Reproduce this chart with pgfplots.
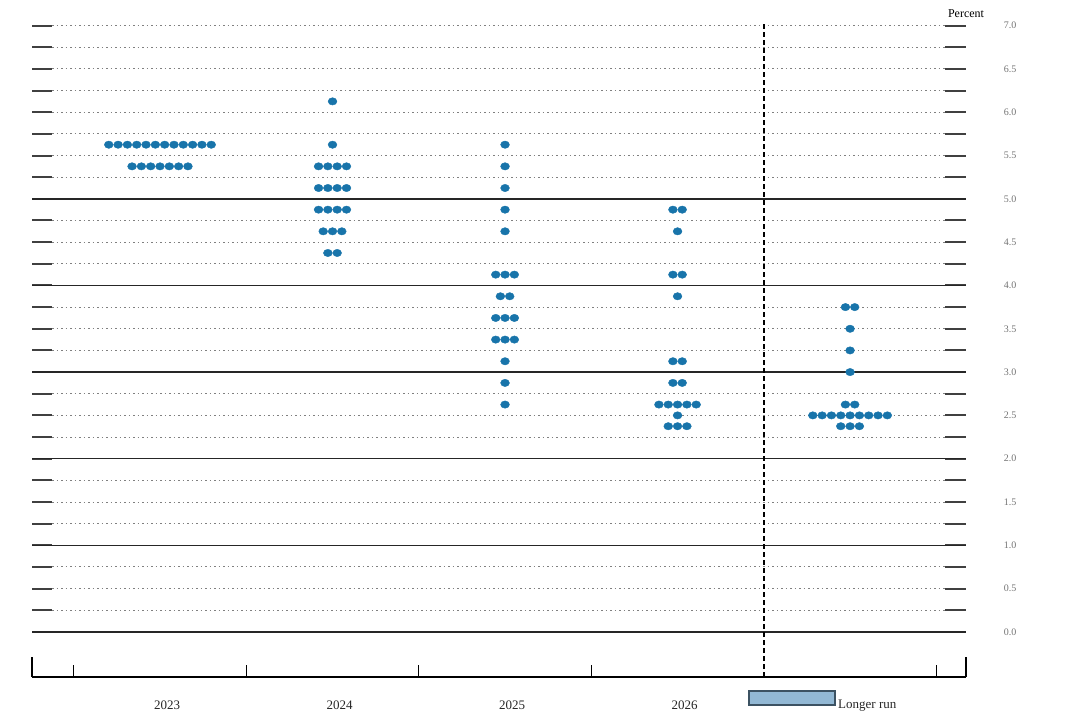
\documentclass[border=0pt]{standalone}
\usepackage{fontspec}
\setmainfont{Liberation Serif}
\usepackage{pgfplots}
\pgfplotsset{compat=1.18}
\definecolor{dotblue}{RGB}{24,116,170}
\definecolor{ticklab}{RGB}{115,115,115}
\definecolor{boxfill}{RGB}{146,184,212}
\definecolor{boxedge}{RGB}{60,82,98}
\begin{document}
\begin{tikzpicture}[x=1pt,y=1pt]
\useasboundingbox (0,0) rectangle (1070,717);
\begin{axis}[
  at={(32pt,40pt)}, anchor=south west,
  scale only axis, width=934pt, height=654pt,
  xmin=0.258, xmax=5.672, ymin=-0.52, ymax=7.03,
  axis line style={draw=none},
  clip=false,
  xtick={1,2,3,4}, xticklabels={2023,2024,2025,2026},
  xticklabel style={font=\fontsize{13}{15}\selectfont, text=black!85, xshift=7pt, yshift=-20pt},
  ytick={0,0.5,...,7},
  yticklabel pos=right,
  yticklabel={\pgfmathprintnumber[fixed,fixed zerofill,precision=1]{\tick}},
  yticklabel style={font=\fontsize{10}{12}\selectfont, text=ticklab, anchor=center, xshift=44pt},
  /pgf/number format/assume math mode=true,
  major tick length=0pt,
]
% dotted grid lines
\pgfplotsinvokeforeach{0,0.25,...,7}{
  \draw[gray, line width=1pt, dash pattern=on 1.5pt off 3pt] (axis cs:0.374,#1) -- (axis cs:5.551,#1);
  \draw[black!75, line width=2pt] (axis cs:0.258,#1) -- (axis cs:0.374,#1);
  \draw[black!75, line width=2pt] (axis cs:5.551,#1) -- (axis cs:5.672,#1);
}
% solid integer lines
\pgfplotsinvokeforeach{0,1,2,3,4,5}{
  \draw[black!85, line width=1.4pt] (axis cs:0.258,#1) -- (axis cs:5.672,#1);
}
% bottom axis
\draw[black, line width=2pt] (axis cs:0.258,-0.52) -- (axis cs:5.672,-0.52);
\draw[black, line width=2pt] (axis cs:0.258,-0.52) -- ++(0pt,20pt);
\draw[black, line width=2pt] (axis cs:5.672,-0.52) -- ++(0pt,20pt);
\pgfplotsinvokeforeach{0.5,1.5,2.5,3.5,5.5}{
  \draw[black, line width=1.3pt] (axis cs:#1,-0.52) -- ++(0pt,12pt);
}
% vertical dashed separator
\draw[black, line width=2.6pt, dash pattern=on 5pt off 3pt] (axis cs:4.5,-0.52) -- (axis cs:4.5,7.03);
% dots
\addplot[only marks, mark=*, color=dotblue, mark size=4.1pt,
  mark options={draw=dotblue, fill=dotblue, xscale=1.08, yscale=0.9}] table {
x y
0.703 5.625
0.757 5.625
0.811 5.625
0.865 5.625
0.919 5.625
0.973 5.625
1.027 5.625
1.081 5.625
1.135 5.625
1.189 5.625
1.243 5.625
1.297 5.625
0.838 5.375
0.892 5.375
0.946 5.375
1.000 5.375
1.054 5.375
1.108 5.375
1.162 5.375
2.000 6.125
2.000 5.625
1.919 5.375
1.973 5.375
2.027 5.375
2.081 5.375
1.919 5.125
1.973 5.125
2.027 5.125
2.081 5.125
1.919 4.875
1.973 4.875
2.027 4.875
2.081 4.875
1.946 4.625
2.000 4.625
2.054 4.625
1.973 4.375
2.027 4.375
3.000 5.625
3.000 5.375
3.000 5.125
3.000 4.875
3.000 4.625
2.946 4.125
3.000 4.125
3.054 4.125
2.973 3.875
3.027 3.875
2.946 3.625
3.000 3.625
3.054 3.625
2.946 3.375
3.000 3.375
3.054 3.375
3.000 3.125
3.000 2.875
3.000 2.625
3.973 4.875
4.027 4.875
4.000 4.625
3.973 4.125
4.027 4.125
4.000 3.875
3.973 3.125
4.027 3.125
3.973 2.875
4.027 2.875
3.892 2.625
3.946 2.625
4.000 2.625
4.054 2.625
4.108 2.625
4.000 2.5
3.946 2.375
4.000 2.375
4.054 2.375
4.973 3.75
5.027 3.75
5.000 3.5
5.000 3.25
5.000 3.0
4.973 2.625
5.027 2.625
4.784 2.5
4.838 2.5
4.892 2.5
4.946 2.5
5.000 2.5
5.054 2.5
5.108 2.5
5.162 2.5
5.216 2.5
4.946 2.375
5.000 2.375
5.054 2.375
};
% Longer run label
\draw[boxedge, line width=2.5pt, fill=boxfill] (axis cs:4.415,-0.681) rectangle (axis cs:4.913,-0.843);
\node[anchor=base west, inner sep=0pt, font=\fontsize{13}{15}\selectfont, text=black!85] at (axis cs:4.93,-0.885) {Longer run};
% Percent
\node[anchor=center, font=\fontsize{12}{14}\selectfont] at (axis cs:5.672,7.136) {Percent};
\end{axis}
\end{tikzpicture}
\end{document}
